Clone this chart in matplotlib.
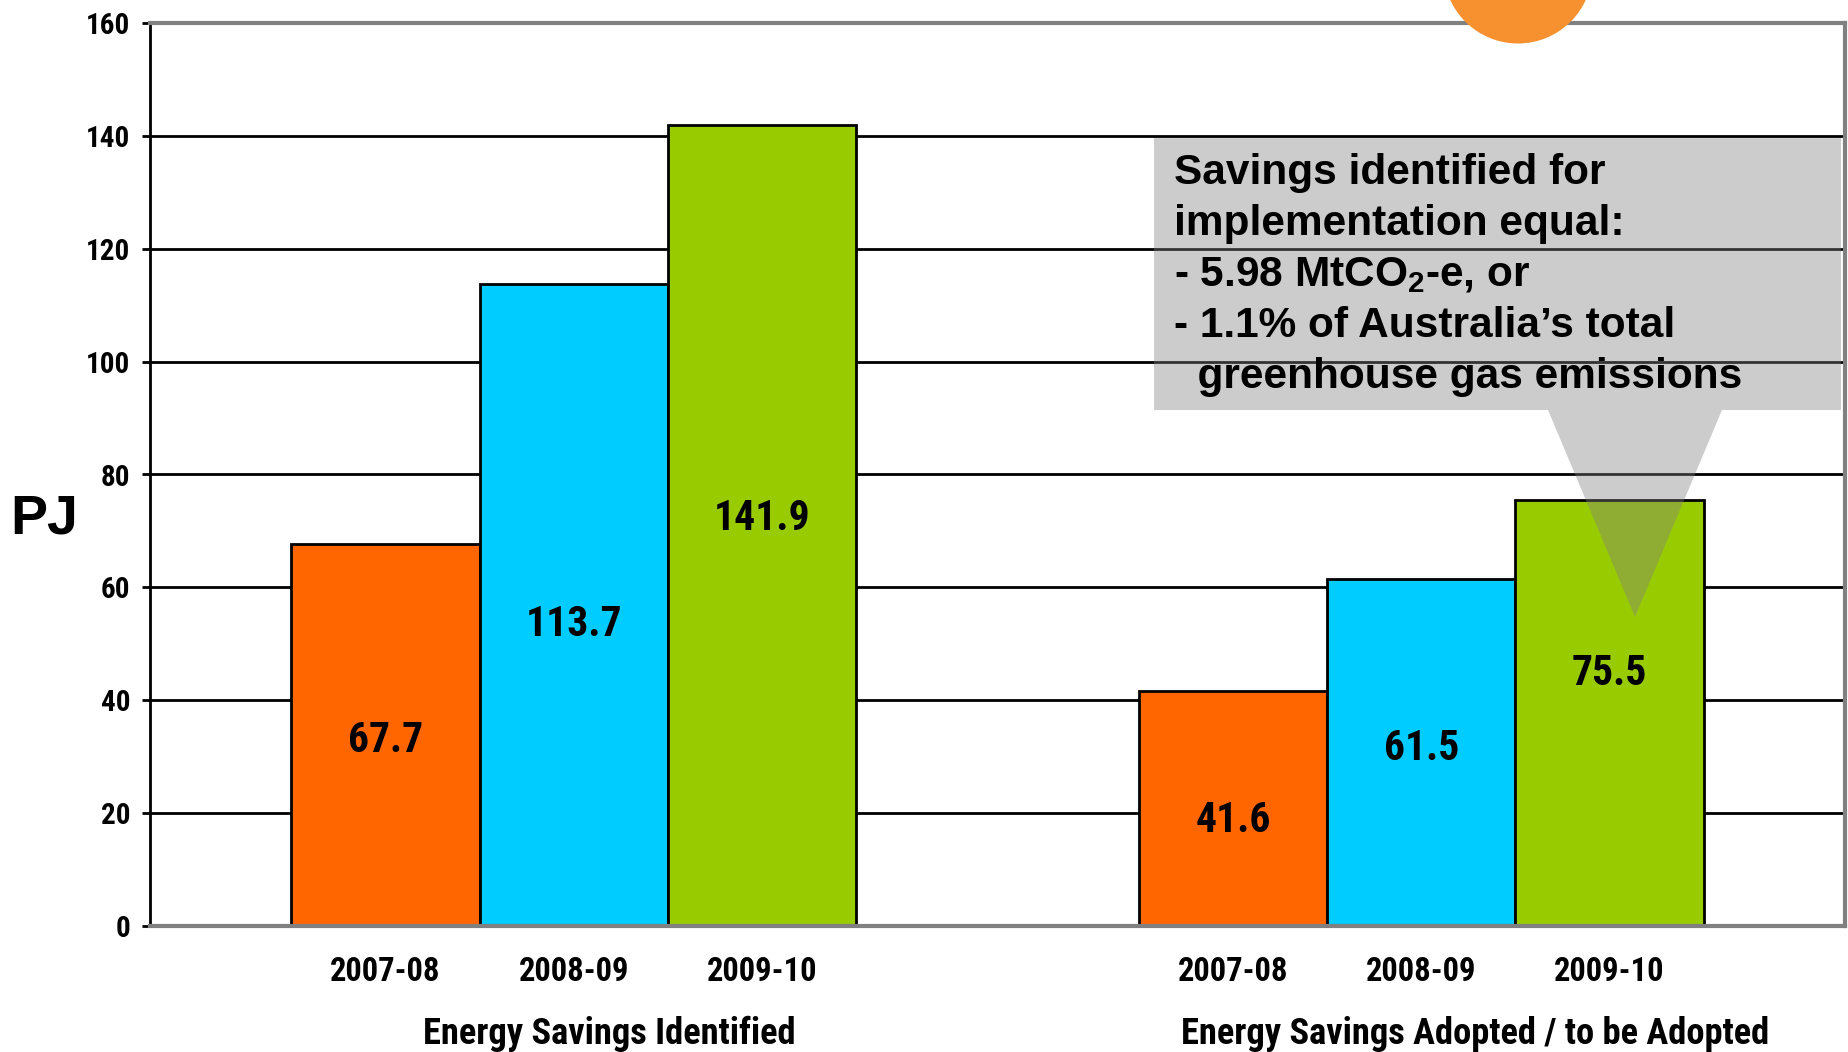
import matplotlib
matplotlib.use("Agg")
import matplotlib.pyplot as plt
from matplotlib.patches import Polygon, Circle
from matplotlib import transforms
import numpy as np

# ---- data ----
groups = ["Energy Savings Identified", "Energy Savings Adopted / to be Adopted"]
years = ["2007-08", "2008-09", "2009-10"]
identified = [67.7, 113.7, 141.9]
adopted = [41.6, 61.5, 75.5]
series_colors = ["#ff6600", "#00ccff", "#99cc00"]
label_frac_identified = [0.486, 0.470, 0.509]
label_frac_adopted = [0.45, 0.51, 0.592]
yticks = [0, 20, 40, 60, 80, 100, 120, 140, 160]
callout_lines = ["Savings identified for",
                 "implementation equal:",
                 r"- 5.98 MtCO$_{2}$-e, or",
                 "- 1.1% of Australia\u2019s total",
                 "  greenhouse gas emissions"]

NARROW = ["Roboto Condensed", "Liberation Sans", "DejaVu Sans"]
WIDE = ["Liberation Sans", "DejaVu Sans"]
plt.rcParams['font.family'] = NARROW
plt.rcParams['font.weight'] = 'bold'
plt.rcParams['mathtext.default'] = 'regular'

W, H = 1848, 1052
fig = plt.figure(figsize=(W / 100, H / 100), dpi=100)
ax = fig.add_axes([150 / W, 1 - 926 / H, 1695 / W, 903 / H])

w = 2 / 9
offsets = np.array([-w, 0, w])
centers = np.arange(len(groups))
group_label_shift = [0.042, 0.063]
values = [identified, adopted]
fracs = [label_frac_identified, label_frac_adopted]
trans = transforms.blended_transform_factory(ax.transData, ax.transAxes)

for gi, (vals, fr) in enumerate(zip(values, fracs)):
    xs = centers[gi] + offsets
    ax.bar(xs, vals, width=w, color=series_colors, edgecolor="black",
           linewidth=2, zorder=2)
    for x, v, f in zip(xs, vals, fr):
        ax.text(x, v * f, f"{v:.1f}", ha="center", va="center",
                fontsize=30, fontweight="bold", zorder=5)
    for x, yl in zip(xs, years):
        ax.text(x, -0.0505, yl, transform=trans, ha="center", va="center",
                fontsize=23.5, fontweight="bold")
    ax.text(centers[gi] + group_label_shift[gi], -0.12, groups[gi],
            transform=trans, ha="center", va="center", fontsize=26.3,
            fontweight="bold")

ax.set_xlim(-0.5, 1.5)
ax.set_ylim(0, 160)
ax.set_yticks(yticks)
ax.set_xticks([])
for t in yticks[1:-1]:
    ax.axhline(t, color="black", lw=2, zorder=1)
ax.tick_params(axis="y", direction="out", length=6, width=2, pad=8,
               labelsize=21, color="black")
for lab in ax.get_yticklabels():
    lab.set_fontweight("bold")
ax.spines["left"].set_color("black")
ax.spines["left"].set_linewidth(2)
for s in ["top", "right", "bottom"]:
    ax.spines[s].set_color("#808080")
    ax.spines[s].set_linewidth(3)

fig.text(44 / W, 1 - 519 / H, "PJ", ha="center", va="center", fontsize=40,
         fontweight="bold", family=WIDE)

# callout (annotation shape in figure pixels)
pts = [(1154, 138), (1841, 138), (1841, 410), (1722, 410), (1635, 617),
       (1548, 410), (1154, 410)]
poly = Polygon([(x / W, 1 - y / H) for x, y in pts], closed=True,
               transform=fig.transFigure, facecolor="#808080", alpha=0.4,
               edgecolor="none", zorder=3)
ax.add_patch(poly)
poly.set_clip_on(False)
for i, line in enumerate(callout_lines):
    fig.text(1174 / W, 1 - (173 + 51 * i) / H, line, ha="left", va="center",
             fontsize=30.5, fontweight="bold", family=WIDE, zorder=6)

# decorative orange circle at top
circ = Circle((1518 / 100, (H + 31) / 100), 0.745, transform=fig.dpi_scale_trans,
              facecolor="#f7902f", edgecolor="none", zorder=10)
fig.patches.append(circ)
circ.set_figure(fig)

fig.savefig("out.png", dpi=100)
